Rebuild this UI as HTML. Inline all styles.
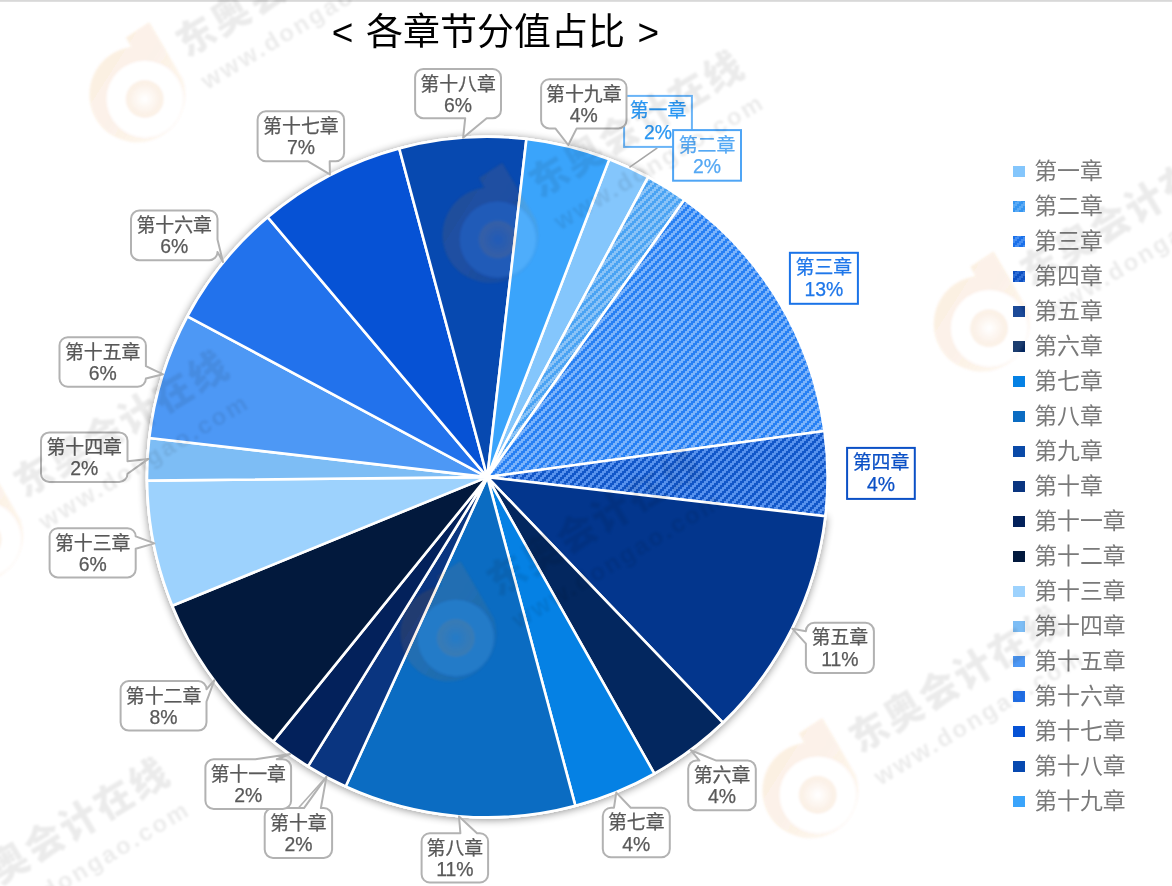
<!DOCTYPE html>
<html lang="zh-CN"><head><meta charset="utf-8"><title>各章节分值占比</title>
<style>
html,body{margin:0;padding:0;background:#fff;}
body{width:1172px;height:886px;overflow:hidden;position:relative;font-family:"Liberation Sans","Noto Sans CJK SC",sans-serif;}
svg{position:absolute;left:0;top:0;display:block}
.t{font-family:"Liberation Sans","Noto Sans CJK SC",sans-serif;}
.lb{font-size:18.9px;text-anchor:middle;fill:#595959;stroke:#595959;stroke-width:.25px}
.pc{font-size:19.4px}
.lg{font-size:22.9px;fill:#7a7a7a}
.wm{font-family:"Liberation Sans","Noto Sans CJK SC",sans-serif;font-weight:700;fill:#000}
</style></head><body>
<svg width="1172" height="886" viewBox="0 0 1172 886">
<defs>
<pattern id="p2" width="8" height="8" patternUnits="userSpaceOnUse" patternTransform="translate(0,-1)" shape-rendering="crispEdges"><rect width="8" height="8" fill="#4aa3f3"/><path d="M2 0h4v2h-4zM0 2h4v2h-4zM6 4h2v2h-2zM0 4h2v2h-2zM4 6h4v2h-4z" fill="#8ac3f7"/></pattern>
<pattern id="p3" width="8" height="8" patternUnits="userSpaceOnUse" patternTransform="translate(-1,-1)" shape-rendering="crispEdges"><rect width="8" height="8" fill="#2880f3"/><path d="M2 0h4v2h-4zM0 2h4v2h-4zM6 4h2v2h-2zM0 4h2v2h-2zM4 6h4v2h-4z" fill="#7cb3fa"/></pattern>
<pattern id="p4" width="8" height="8" patternUnits="userSpaceOnUse" patternTransform="translate(0,-1)" shape-rendering="crispEdges"><rect width="8" height="8" fill="#1257c9"/><path d="M2 0h4v2h-4zM0 2h4v2h-4zM6 4h2v2h-2zM0 4h2v2h-2zM4 6h4v2h-4z" fill="#5892ed"/></pattern>
<pattern id="q2" width="8" height="8" patternUnits="userSpaceOnUse" patternTransform="translate(1,6)" shape-rendering="crispEdges"><rect width="8" height="8" fill="#3596f1"/><path d="M2 0h4v2h-4zM0 2h4v2h-4zM6 4h2v2h-2zM0 4h2v2h-2zM4 6h4v2h-4z" fill="#5baaf4"/></pattern>
<pattern id="q3" width="8" height="8" patternUnits="userSpaceOnUse" patternTransform="translate(1,1)" shape-rendering="crispEdges"><rect width="8" height="8" fill="#1a70ea"/><path d="M2 0h4v2h-4zM0 2h4v2h-4zM6 4h2v2h-2zM0 4h2v2h-2zM4 6h4v2h-4z" fill="#468ef1"/></pattern>
<pattern id="q4" width="8" height="8" patternUnits="userSpaceOnUse" patternTransform="translate(1,4)" shape-rendering="crispEdges"><rect width="8" height="8" fill="#0d50c2"/><path d="M2 0h4v2h-4zM0 2h4v2h-4zM6 4h2v2h-2zM0 4h2v2h-2zM4 6h4v2h-4z" fill="#2f6ed5"/></pattern>
<filter id="sh" x="-10%" y="-10%" width="120%" height="120%"><feGaussianBlur in="SourceAlpha" stdDeviation="4"/><feOffset dx="0" dy="0.8" result="b"/><feComponentTransfer><feFuncA type="linear" slope="0.45"/></feComponentTransfer><feMerge><feMergeNode/><feMergeNode in="SourceGraphic"/></feMerge></filter>
<filter id="wb" x="-20%" y="-50%" width="140%" height="200%"><feGaussianBlur stdDeviation="0.9"/></filter>
<radialGradient id="rg"><stop offset="0" stop-color="#e08128" stop-opacity="0"/><stop offset=".75" stop-color="#e08128" stop-opacity=".9"/><stop offset="1" stop-color="#e08128" stop-opacity="1"/></radialGradient>
<linearGradient id="lgr" x1="0" y1="0.1" x2="1" y2="0.9"><stop offset="0" stop-color="#e08128" stop-opacity="1"/><stop offset=".5" stop-color="#e08128" stop-opacity=".95"/><stop offset="1" stop-color="#e08128" stop-opacity=".35"/></linearGradient>
</defs>
<rect x="0" y="0" width="1172" height="1.8" fill="#d8d8d8"/>
<text class="t" x="495.5" y="44.6" font-size="37" word-spacing="2.3" text-anchor="middle" fill="#000">&lt; 各章节分值占比 &gt;</text>
<g filter="url(#sh)"><path d="M487.3 477.1L826.64 516.36A341.6 341.6 0 1 1 648.72 176.05Z" fill="#fff"/></g>
<circle cx="487.3" cy="477.1" r="341.5" fill="#fff"/>
<g stroke="#fff" stroke-width="2.6" stroke-linejoin="round">
<path d="M487.3 477.1L609.25 159.40A340.3 340.3 0 0 1 648.11 177.19Z" fill="#84c6fc"/>
<path d="M487.3 477.1L648.11 177.19A340.3 340.3 0 0 1 684.43 199.71Z" fill="url(#p2)"/>
<path d="M487.3 477.1L684.43 199.71A340.3 340.3 0 0 1 824.45 430.92Z" fill="url(#p3)"/>
<path d="M487.3 477.1L824.45 430.92A340.3 340.3 0 0 1 825.34 516.21Z" fill="url(#p4)"/>
<path d="M487.3 477.1L825.34 516.21A340.3 340.3 0 0 1 722.84 722.72Z" fill="#03368d"/>
<path d="M487.3 477.1L722.84 722.72A340.3 340.3 0 0 1 654.35 773.57Z" fill="#03275f"/>
<path d="M487.3 477.1L654.35 773.57A340.3 340.3 0 0 1 575.38 805.80Z" fill="#0581e4"/>
<path d="M487.3 477.1L575.38 805.80A340.3 340.3 0 0 1 345.64 786.51Z" fill="#0b6cc2"/>
<path d="M487.3 477.1L345.64 786.51A340.3 340.3 0 0 1 307.98 766.32Z" fill="#0a3580"/>
<path d="M487.3 477.1L307.98 766.32A340.3 340.3 0 0 1 273.14 741.56Z" fill="#03215b"/>
<path d="M487.3 477.1L273.14 741.56A340.3 340.3 0 0 1 172.23 605.68Z" fill="#02193d"/>
<path d="M487.3 477.1L172.23 605.68A340.3 340.3 0 0 1 147.02 480.66Z" fill="#9dd2fd"/>
<path d="M487.3 477.1L147.02 480.66A340.3 340.3 0 0 1 149.26 437.99Z" fill="#7dbdf5"/>
<path d="M487.3 477.1L149.26 437.99A340.3 340.3 0 0 1 187.39 316.29Z" fill="#4d98f5"/>
<path d="M487.3 477.1L187.39 316.29A340.3 340.3 0 0 1 267.65 217.18Z" fill="#2272ec"/>
<path d="M487.3 477.1L267.65 217.18A340.3 340.3 0 0 1 399.22 148.40Z" fill="#0652d5"/>
<path d="M487.3 477.1L399.22 148.40A340.3 340.3 0 0 1 526.41 139.06Z" fill="#0749b0"/>
<path d="M487.3 477.1L526.41 139.06A340.3 340.3 0 0 1 609.25 159.40Z" fill="#3aa4fb"/>
</g>
<line x1="657.3" y1="147.8" x2="629.4" y2="167.4" stroke="#a6a6a6" stroke-width="1.6"/>
<rect x="624.1" y="95.9" width="67.8" height="51.0" fill="#fff" stroke="#6ab4f7" stroke-width="2"/>
<text class="t lb" x="658.0" y="117.3" style="fill:#2a97f3;stroke:#2a97f3">第一章</text><text class="t lb pc" x="658.0" y="138.6" style="fill:#2a97f3;stroke:#2a97f3">2%</text>
<rect x="673.1" y="130.1" width="67.9" height="50.6" fill="#fff" stroke="#4fa5f5" stroke-width="2"/>
<text class="t lb" x="707.0" y="151.5" style="fill:#55a8f4;stroke:#55a8f4">第二章</text><text class="t lb pc" x="707.0" y="172.8" style="fill:#55a8f4;stroke:#55a8f4">2%</text>
<rect x="789.9" y="252.8" width="68.0" height="51.0" fill="#fff" stroke="#1a73e8" stroke-width="2"/>
<text class="t lb" x="823.9" y="274.2" style="fill:#1f77ea;stroke:#1f77ea">第三章</text><text class="t lb pc" x="823.9" y="295.5" style="fill:#1f77ea;stroke:#1f77ea">13%</text>
<rect x="847.1" y="447.9" width="67.7" height="51.0" fill="#fff" stroke="#0b50c6" stroke-width="2"/>
<text class="t lb" x="881.0" y="469.3" style="fill:#0b50c6;stroke:#0b50c6">第四章</text><text class="t lb pc" x="881.0" y="490.6" style="fill:#0b50c6;stroke:#0b50c6">4%</text>
<path d="M814.25 622.80L865.55 622.80A8.35 8.35 0 0 1 873.90 631.15L873.90 664.55A8.35 8.35 0 0 1 865.55 672.90L814.25 672.90A8.35 8.35 0 0 1 805.90 664.55L805.90 643.67L792.30 628.70L805.90 631.15L805.90 631.15A8.35 8.35 0 0 1 814.25 622.80Z" fill="#fff" stroke="#b2b2b2" stroke-width="2.0" stroke-linejoin="round"/>
<text class="t lb" x="839.9" y="644.3">第五章</text><text class="t lb pc" x="839.9" y="665.6">11%</text>
<path d="M696.47 760.60L699.47 760.60L690.70 750.20L716.37 760.60L747.53 760.60A8.27 8.27 0 0 1 755.80 768.87L755.80 801.93A8.27 8.27 0 0 1 747.53 810.20L696.47 810.20A8.27 8.27 0 0 1 688.20 801.93L688.20 768.87A8.27 8.27 0 0 1 696.47 760.60Z" fill="#fff" stroke="#b2b2b2" stroke-width="2.0" stroke-linejoin="round"/>
<text class="t lb" x="722.0" y="782.1">第六章</text><text class="t lb pc" x="722.0" y="803.4">4%</text>
<path d="M611.07 807.70L613.97 807.70L616.30 792.60L630.72 807.70L661.53 807.70A8.27 8.27 0 0 1 669.80 815.97L669.80 849.03A8.27 8.27 0 0 1 661.53 857.30L611.07 857.30A8.27 8.27 0 0 1 602.80 849.03L602.80 815.97A8.27 8.27 0 0 1 611.07 807.70Z" fill="#fff" stroke="#b2b2b2" stroke-width="2.0" stroke-linejoin="round"/>
<text class="t lb" x="636.3" y="829.2">第七章</text><text class="t lb pc" x="636.3" y="850.5">4%</text>
<path d="M429.82 833.20L460.39 833.20L459.00 816.40L477.02 833.20L479.88 833.20A8.22 8.22 0 0 1 488.10 841.42L488.10 874.28A8.22 8.22 0 0 1 479.88 882.50L429.82 882.50A8.22 8.22 0 0 1 421.60 874.28L421.60 841.42A8.22 8.22 0 0 1 429.82 833.20Z" fill="#fff" stroke="#b2b2b2" stroke-width="2.0" stroke-linejoin="round"/>
<text class="t lb" x="454.9" y="854.7">第八章</text><text class="t lb pc" x="454.9" y="876.0">11%</text>
<line x1="298.4" y1="808" x2="326.4" y2="776.8" stroke="#b2b2b2" stroke-width="1.6"/>
<path d="M273.00 808.10L304.02 808.10L326.40 776.80L320.87 808.10L323.80 808.10A8.30 8.30 0 0 1 332.10 816.40L332.10 849.60A8.30 8.30 0 0 1 323.80 857.90L273.00 857.90A8.30 8.30 0 0 1 264.70 849.60L264.70 816.40A8.30 8.30 0 0 1 273.00 808.10Z" fill="#fff" stroke="#b2b2b2" stroke-width="2.0" stroke-linejoin="round"/>
<text class="t lb" x="298.4" y="829.6">第十章</text><text class="t lb pc" x="298.4" y="850.9">2%</text>
<path d="M213.67 759.30L255.39 759.30L290.20 754.00L276.82 759.30L282.83 759.30A8.27 8.27 0 0 1 291.10 767.57L291.10 800.63A8.27 8.27 0 0 1 282.83 808.90L213.67 808.90A8.27 8.27 0 0 1 205.40 800.63L205.40 767.57A8.27 8.27 0 0 1 213.67 759.30Z" fill="#fff" stroke="#b2b2b2" stroke-width="2.0" stroke-linejoin="round"/>
<text class="t lb" x="248.2" y="780.8">第十一章</text><text class="t lb pc" x="248.2" y="802.1">2%</text>
<path d="M128.87 681.00L198.23 681.00A8.27 8.27 0 0 1 206.50 689.27L206.50 689.27L214.40 680.20L206.50 701.67L206.50 722.33A8.27 8.27 0 0 1 198.23 730.60L128.87 730.60A8.27 8.27 0 0 1 120.60 722.33L120.60 689.27A8.27 8.27 0 0 1 128.87 681.00Z" fill="#fff" stroke="#b2b2b2" stroke-width="2.0" stroke-linejoin="round"/>
<text class="t lb" x="163.6" y="702.5">第十二章</text><text class="t lb pc" x="163.6" y="723.8">8%</text>
<path d="M57.80 528.20L127.50 528.20A8.20 8.20 0 0 1 135.70 536.40L135.70 536.40L154.50 543.40L135.70 548.70L135.70 569.20A8.20 8.20 0 0 1 127.50 577.40L57.80 577.40A8.20 8.20 0 0 1 49.60 569.20L49.60 536.40A8.20 8.20 0 0 1 57.80 528.20Z" fill="#fff" stroke="#b2b2b2" stroke-width="2.0" stroke-linejoin="round"/>
<text class="t lb" x="92.7" y="549.7">第十三章</text><text class="t lb pc" x="92.7" y="571.0">6%</text>
<path d="M49.27 432.40L119.23 432.40A8.27 8.27 0 0 1 127.50 440.67L127.50 461.33L148.40 458.90L127.50 473.73L127.50 473.73A8.27 8.27 0 0 1 119.23 482.00L49.27 482.00A8.27 8.27 0 0 1 41.00 473.73L41.00 440.67A8.27 8.27 0 0 1 49.27 432.40Z" fill="#fff" stroke="#b2b2b2" stroke-width="2.0" stroke-linejoin="round"/>
<text class="t lb" x="84.2" y="453.9">第十四章</text><text class="t lb pc" x="84.2" y="475.2">2%</text>
<path d="M67.77 337.20L137.63 337.20A8.27 8.27 0 0 1 145.90 345.47L145.90 366.13L163.10 374.30L145.90 378.53L145.90 378.53A8.27 8.27 0 0 1 137.63 386.80L67.77 386.80A8.27 8.27 0 0 1 59.50 378.53L59.50 345.47A8.27 8.27 0 0 1 67.77 337.20Z" fill="#fff" stroke="#b2b2b2" stroke-width="2.0" stroke-linejoin="round"/>
<text class="t lb" x="102.7" y="358.7">第十五章</text><text class="t lb pc" x="102.7" y="380.0">6%</text>
<path d="M139.27 210.60L209.23 210.60A8.27 8.27 0 0 1 217.50 218.87L217.50 239.53L223.00 262.00L217.50 251.93L217.50 251.93A8.27 8.27 0 0 1 209.23 260.20L139.27 260.20A8.27 8.27 0 0 1 131.00 251.93L131.00 218.87A8.27 8.27 0 0 1 139.27 210.60Z" fill="#fff" stroke="#b2b2b2" stroke-width="2.0" stroke-linejoin="round"/>
<text class="t lb" x="174.2" y="232.1">第十六章</text><text class="t lb pc" x="174.2" y="253.4">6%</text>
<path d="M265.93 111.30L335.77 111.30A8.33 8.33 0 0 1 344.10 119.63L344.10 152.97A8.33 8.33 0 0 1 335.77 161.30L329.68 161.30L329.90 174.40L308.06 161.30L265.93 161.30A8.33 8.33 0 0 1 257.60 152.97L257.60 119.63A8.33 8.33 0 0 1 265.93 111.30Z" fill="#fff" stroke="#b2b2b2" stroke-width="2.0" stroke-linejoin="round"/>
<text class="t lb" x="300.9" y="132.8">第十七章</text><text class="t lb pc" x="300.9" y="154.1">7%</text>
<path d="M423.30 69.00L492.80 69.00A8.20 8.20 0 0 1 501.00 77.20L501.00 110.00A8.20 8.20 0 0 1 492.80 118.20L486.68 118.20L463.10 137.80L465.21 118.20L423.30 118.20A8.20 8.20 0 0 1 415.10 110.00L415.10 77.20A8.20 8.20 0 0 1 423.30 69.00Z" fill="#fff" stroke="#b2b2b2" stroke-width="2.0" stroke-linejoin="round"/>
<text class="t lb" x="458.1" y="90.5">第十八章</text><text class="t lb pc" x="458.1" y="111.8">6%</text>
<path d="M549.30 79.20L618.30 79.20A8.20 8.20 0 0 1 626.50 87.40L626.50 120.20A8.20 8.20 0 0 1 618.30 128.40L576.68 128.40L568.30 145.00L555.33 128.40L549.30 128.40A8.20 8.20 0 0 1 541.10 120.20L541.10 87.40A8.20 8.20 0 0 1 549.30 79.20Z" fill="#fff" stroke="#b2b2b2" stroke-width="2.0" stroke-linejoin="round"/>
<text class="t lb" x="583.8" y="100.7">第十九章</text><text class="t lb pc" x="583.8" y="122.0">4%</text>
<rect x="1013" y="166" width="12" height="11" fill="#84c6fc"/><text class="t lg" x="1034.2" y="179.3">第一章</text>
<rect x="1013" y="201" width="12" height="11" fill="url(#q2)"/><text class="t lg" x="1034.2" y="214.3">第二章</text>
<rect x="1013" y="236" width="12" height="11" fill="url(#q3)"/><text class="t lg" x="1034.2" y="249.3">第三章</text>
<rect x="1013" y="271" width="12" height="11" fill="url(#q4)"/><text class="t lg" x="1034.2" y="284.3">第四章</text>
<rect x="1013" y="306" width="12" height="11" fill="#03368d"/><text class="t lg" x="1034.2" y="319.3">第五章</text>
<rect x="1013" y="341" width="12" height="11" fill="#03275f"/><text class="t lg" x="1034.2" y="354.3">第六章</text>
<rect x="1013" y="376" width="12" height="11" fill="#0581e4"/><text class="t lg" x="1034.2" y="389.3">第七章</text>
<rect x="1013" y="411" width="12" height="11" fill="#0b6cc2"/><text class="t lg" x="1034.2" y="424.3">第八章</text>
<rect x="1013" y="446" width="12" height="11" fill="#0a4aa8"/><text class="t lg" x="1034.2" y="459.3">第九章</text>
<rect x="1013" y="481" width="12" height="11" fill="#0a3580"/><text class="t lg" x="1034.2" y="494.3">第十章</text>
<rect x="1013" y="516" width="12" height="11" fill="#03215b"/><text class="t lg" x="1034.2" y="529.3">第十一章</text>
<rect x="1013" y="551" width="12" height="11" fill="#02193d"/><text class="t lg" x="1034.2" y="564.3">第十二章</text>
<rect x="1013" y="586" width="12" height="11" fill="#9dd2fd"/><text class="t lg" x="1034.2" y="599.3">第十三章</text>
<rect x="1013" y="621" width="12" height="11" fill="#7dbdf5"/><text class="t lg" x="1034.2" y="634.3">第十四章</text>
<rect x="1013" y="656" width="12" height="11" fill="#4d98f5"/><text class="t lg" x="1034.2" y="669.3">第十五章</text>
<rect x="1013" y="691" width="12" height="11" fill="#2272ec"/><text class="t lg" x="1034.2" y="704.3">第十六章</text>
<rect x="1013" y="726" width="12" height="11" fill="#0652d5"/><text class="t lg" x="1034.2" y="739.3">第十七章</text>
<rect x="1013" y="761" width="12" height="11" fill="#0749b0"/><text class="t lg" x="1034.2" y="774.3">第十八章</text>
<rect x="1013" y="796" width="12" height="11" fill="#3aa4fb"/><text class="t lg" x="1034.2" y="809.3">第十九章</text>
<g transform="translate(141.4 97)" filter="url(#wb)"><circle cx="3.3" cy="2" r="38" fill="#fff" opacity=".1"/><g fill="#e08128" opacity=".115" transform="translate(-3.9 -2.5)"><path fill="url(#lgr)" fill-rule="evenodd" d="M-6.3 -47.6L-11.7 -56.9L11.7 -72.3L45.5 -15A48 48 0 1 1 -6.3 -47.6zM-30.8 4.5a38 38 0 1 0 76 0a38 38 0 1 0 -76 0z"/><circle cx="7.2" cy="4.5" r="19" fill="url(#rg)"/></g><g transform="rotate(-31)" opacity=".08"><text class="wm" x="59" y="-11" font-size="38" letter-spacing="2.6" style="font-weight:900">东奥会计在线</text><text class="wm" x="60" y="28" font-size="24" textLength="238" lengthAdjust="spacing">www.dongao.com</text></g></g>
<g transform="translate(494.5 237.5)" filter="url(#wb)"><circle cx="3.3" cy="2" r="38" fill="#fff" opacity=".1"/><g fill="#e08128" opacity=".115" transform="translate(-3.9 -2.5)"><path fill="url(#lgr)" fill-rule="evenodd" d="M-6.3 -47.6L-11.7 -56.9L11.7 -72.3L45.5 -15A48 48 0 1 1 -6.3 -47.6zM-30.8 4.5a38 38 0 1 0 76 0a38 38 0 1 0 -76 0z"/><circle cx="7.2" cy="4.5" r="19" fill="url(#rg)"/></g><g transform="rotate(-31)" opacity=".08"><text class="wm" x="59" y="-11" font-size="38" letter-spacing="2.6" style="font-weight:900">东奥会计在线</text><text class="wm" x="60" y="28" font-size="24" textLength="238" lengthAdjust="spacing">www.dongao.com</text></g></g>
<g transform="translate(985.7 326.2)" filter="url(#wb)"><circle cx="3.3" cy="2" r="38" fill="#fff" opacity=".1"/><g fill="#e08128" opacity=".115" transform="translate(-3.9 -2.5)"><path fill="url(#lgr)" fill-rule="evenodd" d="M-6.3 -47.6L-11.7 -56.9L11.7 -72.3L45.5 -15A48 48 0 1 1 -6.3 -47.6zM-30.8 4.5a38 38 0 1 0 76 0a38 38 0 1 0 -76 0z"/><circle cx="7.2" cy="4.5" r="19" fill="url(#rg)"/></g><g transform="rotate(-31)" opacity=".08"><text class="wm" x="59" y="-11" font-size="38" letter-spacing="2.6" style="font-weight:900">东奥会计在线</text><text class="wm" x="60" y="28" font-size="24" textLength="238" lengthAdjust="spacing">www.dongao.com</text></g></g>
<g transform="translate(-20.8 537.5)" filter="url(#wb)"><circle cx="3.3" cy="2" r="38" fill="#fff" opacity=".1"/><g fill="#e08128" opacity=".115" transform="translate(-3.9 -2.5)"><path fill="url(#lgr)" fill-rule="evenodd" d="M-6.3 -47.6L-11.7 -56.9L11.7 -72.3L45.5 -15A48 48 0 1 1 -6.3 -47.6zM-30.8 4.5a38 38 0 1 0 76 0a38 38 0 1 0 -76 0z"/><circle cx="7.2" cy="4.5" r="19" fill="url(#rg)"/></g><g transform="rotate(-31)" opacity=".08"><text class="wm" x="59" y="-11" font-size="38" letter-spacing="2.6" style="font-weight:900">东奥会计在线</text><text class="wm" x="60" y="28" font-size="24" textLength="238" lengthAdjust="spacing">www.dongao.com</text></g></g>
<g transform="translate(452.5 636)" filter="url(#wb)"><circle cx="3.3" cy="2" r="38" fill="#fff" opacity=".1"/><g fill="#e08128" opacity=".115" transform="translate(-3.9 -2.5)"><path fill="url(#lgr)" fill-rule="evenodd" d="M-6.3 -47.6L-11.7 -56.9L11.7 -72.3L45.5 -15A48 48 0 1 1 -6.3 -47.6zM-30.8 4.5a38 38 0 1 0 76 0a38 38 0 1 0 -76 0z"/><circle cx="7.2" cy="4.5" r="19" fill="url(#rg)"/></g><g transform="rotate(-31)" opacity=".08"><text class="wm" x="59" y="-11" font-size="38" letter-spacing="2.6" style="font-weight:900">东奥会计在线</text><text class="wm" x="60" y="28" font-size="24" textLength="238" lengthAdjust="spacing">www.dongao.com</text></g></g>
<g transform="translate(814.4 792.8)" filter="url(#wb)"><circle cx="3.3" cy="2" r="38" fill="#fff" opacity=".1"/><g fill="#e08128" opacity=".115" transform="translate(-3.9 -2.5)"><path fill="url(#lgr)" fill-rule="evenodd" d="M-6.3 -47.6L-11.7 -56.9L11.7 -72.3L45.5 -15A48 48 0 1 1 -6.3 -47.6zM-30.8 4.5a38 38 0 1 0 76 0a38 38 0 1 0 -76 0z"/><circle cx="7.2" cy="4.5" r="19" fill="url(#rg)"/></g><g transform="rotate(-31)" opacity=".08"><text class="wm" x="59" y="-11" font-size="38" letter-spacing="2.6" style="font-weight:900">东奥会计在线</text><text class="wm" x="60" y="28" font-size="24" textLength="238" lengthAdjust="spacing">www.dongao.com</text></g></g>
<g transform="translate(-80 944.6)" filter="url(#wb)"><circle cx="3.3" cy="2" r="38" fill="#fff" opacity=".1"/><g fill="#e08128" opacity=".115" transform="translate(-3.9 -2.5)"><path fill="url(#lgr)" fill-rule="evenodd" d="M-6.3 -47.6L-11.7 -56.9L11.7 -72.3L45.5 -15A48 48 0 1 1 -6.3 -47.6zM-30.8 4.5a38 38 0 1 0 76 0a38 38 0 1 0 -76 0z"/><circle cx="7.2" cy="4.5" r="19" fill="url(#rg)"/></g><g transform="rotate(-31)" opacity=".08"><text class="wm" x="59" y="-11" font-size="38" letter-spacing="2.6" style="font-weight:900">东奥会计在线</text><text class="wm" x="60" y="28" font-size="24" textLength="238" lengthAdjust="spacing">www.dongao.com</text></g></g>
</svg>
</body></html>
